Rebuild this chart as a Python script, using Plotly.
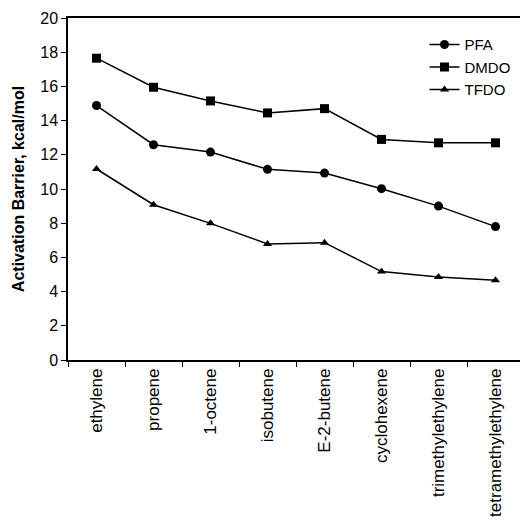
import plotly.graph_objects as go

categories = ["ethylene", "propene", "1-octene", "isobutene", "E-2-butene",
              "cyclohexene", "trimethylethylene", "tetramethylethylene"]
pfa = [14.88, 12.59, 12.16, 11.15, 10.93, 10.02, 9.0, 7.8]
dmdo = [17.65, 15.95, 15.15, 14.45, 14.7, 12.9, 12.7, 12.7]
tfdo = [11.17, 9.08, 7.99, 6.79, 6.86, 5.17, 4.86, 4.66]
y_ticks = [0, 2, 4, 6, 8, 10, 12, 14, 16, 18, 20]

FONT = "Liberation Sans, Arial, sans-serif"

fig = go.Figure()
for name, vals, sym in [("PFA", pfa, "circle"), ("DMDO", dmdo, "square"),
                        ("TFDO", tfdo, "triangle-up")]:
    fig.add_trace(go.Scatter(
        x=categories, y=vals, name=name, mode="lines+markers",
        line=dict(color="black", width=1.5),
        marker=dict(symbol=sym, size=9 if sym != "triangle-up" else 8, color="black"),
    ))

fig.update_layout(
    width=520, height=517,
    margin=dict(l=60, r=0, t=10, b=165, autoexpand=False),
    plot_bgcolor="white", paper_bgcolor="white",
    font=dict(family=FONT, color="black", size=15),
    showlegend=True,
    legend=dict(x=0.775, y=0.97, xanchor="left", yanchor="top",
                bgcolor="rgba(0,0,0,0)", font=dict(size=15, family=FONT),
                itemwidth=30, tracegroupgap=0),
)
fig.update_xaxes(
    type="category", range=[-0.5, 7.57], automargin=False,
    showline=True, linecolor="black", linewidth=1.5, mirror=True,
    ticks="outside", tickson="boundaries", ticklen=5, tickcolor="black",
    tickangle=-90, tickfont=dict(size=17, family=FONT),
    showgrid=False, zeroline=False,
)
fig.update_yaxes(
    range=[0, 20], tickvals=y_ticks, automargin=False,
    showline=True, linecolor="black", linewidth=1.5,
    ticks="outside", ticklen=5, tickcolor="black",
    tickfont=dict(size=16, family=FONT),
    showgrid=False, zeroline=False,
    title=dict(text="<b>Activation Barrier, kcal/mol</b>", font=dict(size=16, family=FONT), standoff=12),
)

fig.write_html("out.html")
